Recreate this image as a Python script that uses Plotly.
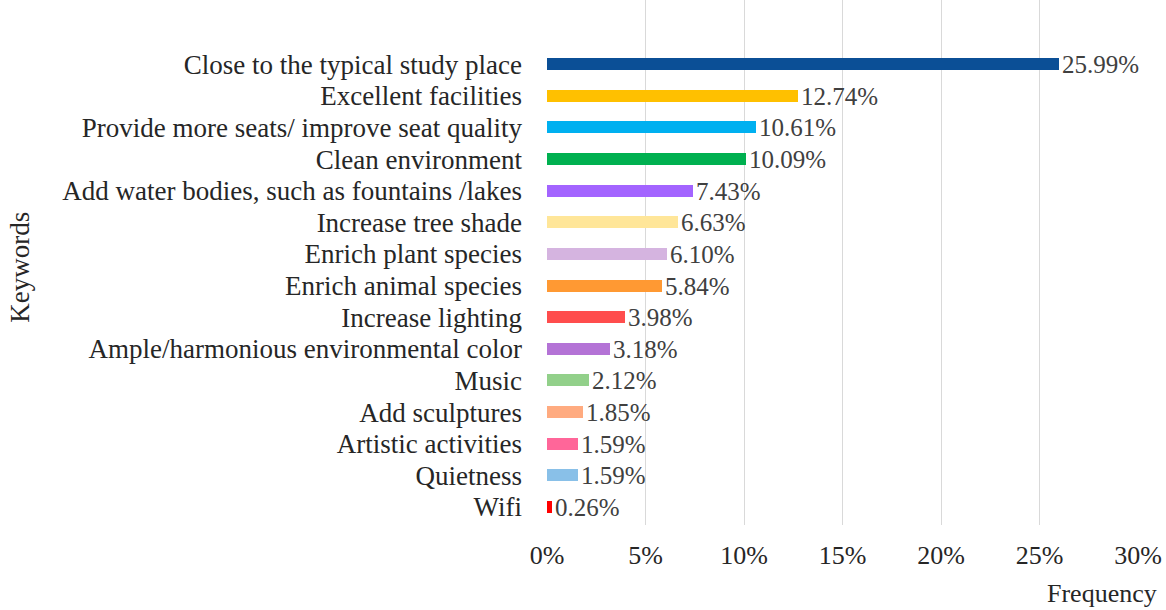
import plotly.graph_objects as go

categories = [
    "Close to the typical study place",
    "Excellent facilities",
    "Provide more seats/ improve seat quality",
    "Clean environment",
    "Add water bodies, such as fountains /lakes",
    "Increase tree shade",
    "Enrich plant species",
    "Enrich animal species",
    "Increase lighting",
    "Ample/harmonious environmental color",
    "Music",
    "Add sculptures",
    "Artistic activities",
    "Quietness",
    "Wifi",
]
values = [25.99, 12.74, 10.61, 10.09, 7.43, 6.63, 6.10, 5.84, 3.98, 3.18, 2.12, 1.85, 1.59, 1.59, 0.26]
labels = ["25.99%", "12.74%", "10.61%", "10.09%", "7.43%", "6.63%", "6.10%", "5.84%",
          "3.98%", "3.18%", "2.12%", "1.85%", "1.59%", "1.59%", "0.26%"]
colors = ["#0b4f96", "#ffc000", "#00b0f0", "#00b050", "#a364ff", "#ffe699", "#d5b4e0",
          "#ff9933", "#ff4d4d", "#b473d6", "#92d08a", "#ffab80", "#ff6699", "#89c0e8", "#ff0000"]
tick_vals = [0, 5, 10, 15, 20, 25, 30]
tick_text = ["0%", "5%", "10%", "15%", "20%", "25%", "30%"]

font_family = "Liberation Serif"

fig = go.Figure(go.Bar(
    x=values,
    y=list(range(len(categories))),
    orientation="h",
    marker=dict(color=colors, line=dict(width=0)),
    width=0.38,
    text=labels,
    textposition="outside",
    constraintext="none",
    cliponaxis=False,
    textfont=dict(family=font_family, size=25, color="#404040"),
))

fig.update_layout(
    width=1166, height=610,
    margin=dict(l=547, r=28, t=0, b=85),
    plot_bgcolor="white", paper_bgcolor="white",
    showlegend=False,
    font=dict(family=font_family, color="#262626"),
    bargap=0,
    uniformtext=dict(mode=False),
)
fig.update_xaxes(
    range=[0, 30], tickvals=tick_vals, ticktext=tick_text,
    showgrid=True, gridcolor="#d9d9d9", gridwidth=1,
    zeroline=False, showline=False,
    ticks="", tickfont=dict(family=font_family, size=26, color="#262626"),
    ticklabelstandoff=12,
)
fig.update_yaxes(
    range=[14.57, -2.03],
    tickvals=list(range(len(categories))), ticktext=categories,
    showgrid=False, zeroline=False, showline=False, ticks="",
    tickfont=dict(family=font_family, size=27, color="#262626"),
    ticklabelstandoff=24,
)

fig.add_annotation(text="Frequency", xref="paper", yref="paper", x=1.0, xshift=21, y=0, yshift=-85,
                   xanchor="right", yanchor="bottom", showarrow=False,
                   font=dict(family=font_family, size=26, color="#262626"))
fig.add_annotation(text="Keywords", xref="paper", yref="paper", x=0, xshift=-527, y=0.49,
                   textangle=-90, xanchor="center", yanchor="middle", showarrow=False,
                   font=dict(family=font_family, size=27, color="#262626"))

fig.write_html("out.html")
